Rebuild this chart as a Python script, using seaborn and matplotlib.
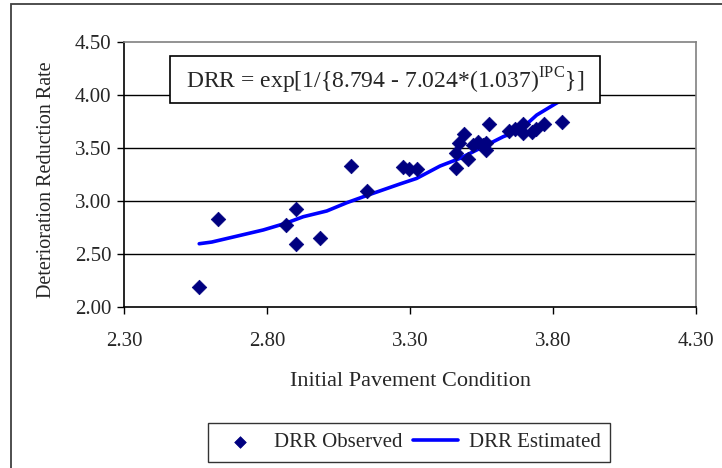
import matplotlib
matplotlib.use("Agg")
import matplotlib.pyplot as plt
import seaborn as sns
import pandas as pd
from matplotlib.patches import Rectangle

# Observed data
ipc_obs = [2.563, 2.630, 2.865, 2.901, 2.901, 2.986, 3.095, 3.151, 3.276, 3.298,
           3.323, 3.460, 3.460, 3.471, 3.490, 3.504, 3.521, 3.537, 3.556, 3.566,
           3.566, 3.576, 3.647, 3.667, 3.696, 3.696, 3.728, 3.741, 3.770, 3.831]
drr_obs = [2.186, 2.825, 2.774, 2.922, 2.592, 2.645, 3.330, 3.089, 3.315, 3.296,
           3.296, 3.311, 3.447, 3.547, 3.632, 3.393, 3.525, 3.557, 3.525, 3.478,
           3.541, 3.726, 3.658, 3.673, 3.724, 3.642, 3.651, 3.673, 3.724, 3.740]

# Estimated curve
ipc_est = [2.563, 2.607, 2.787, 2.865, 2.927, 3.009, 3.079, 3.151, 3.265, 3.323,
           3.405, 3.475, 3.556, 3.626, 3.685, 3.743, 3.807, 3.831]
drr_est = [2.594, 2.610, 2.724, 2.787, 2.849, 2.903, 2.981, 3.051, 3.158, 3.210,
           3.327, 3.400, 3.509, 3.604, 3.667, 3.808, 3.912, 3.950]

x_ticks = [2.30, 2.80, 3.30, 3.80, 4.30]
y_ticks = [2.00, 2.50, 3.00, 3.50, 4.00, 4.50]

sns.set_style("white")
plt.rcParams['font.family'] = ['Liberation Serif', 'DejaVu Serif']
plt.rcParams['mathtext.fontset'] = 'custom'
plt.rcParams['mathtext.rm'] = 'Liberation Serif'

W, H = 722, 468
fig = plt.figure(figsize=(W / 100, H / 100), dpi=100)
L, R, T, B = 124, 696, 41.7, 306.7
ax = fig.add_axes([L / W, 1 - B / H, (R - L) / W, (B - T) / H])

df_obs = pd.DataFrame({"IPC": ipc_obs, "DRR": drr_obs})
df_est = pd.DataFrame({"IPC": ipc_est, "DRR": drr_est})

sns.lineplot(data=df_est, x="IPC", y="DRR", ax=ax, color="#0000FF", lw=2.6,
             sort=False, estimator=None, zorder=3, label="DRR Estimated")
sns.scatterplot(data=df_obs, x="IPC", y="DRR", ax=ax, marker="D", s=55,
                color="#000080", edgecolor="#000080", linewidth=0.5, zorder=4,
                label="DRR Observed")

ax.set_xlim(2.30, 4.30)
ax.set_ylim(2.00, 4.50)
ax.set_xticks(x_ticks)
ax.set_yticks(y_ticks)
ax.set_xticklabels([f"{v:.2f}" for v in x_ticks], fontsize=15)
ax.set_yticklabels([f"{v:.2f}" for v in y_ticks], fontsize=15)
ax.tick_params(axis="both", direction="out", length=5, width=1, color="black",
               bottom=True, left=True, pad=4)
ax.tick_params(axis="x", pad=13.5)

for v in y_ticks[1:-1]:
    ax.axhline(v, color="black", lw=1, zorder=1)
ax.spines["left"].set_color("black")
ax.spines["bottom"].set_color("black")
ax.spines["left"].set_linewidth(1.2)
ax.spines["bottom"].set_linewidth(1.2)
ax.spines["top"].set_color("#808080")
ax.spines["right"].set_color("#808080")
ax.spines["top"].set_linewidth(1.2)
ax.spines["right"].set_linewidth(1.2)

ax.set_xlabel("Initial Pavement Condition", fontsize=16, labelpad=15)
ax.set_ylabel("Deterioration Reduction Rate", fontsize=14.5)
ax.yaxis.set_label_coords((47 - L) / (R - L), (B - 179.5) / (B - T))
ax.yaxis.label.set_va("center")

# Equation box
bx0, bx1, by0, by1 = 170, 600, 56, 103
ax.add_patch(Rectangle((bx0 / W, 1 - by1 / H), (bx1 - bx0) / W, (by1 - by0) / H,
                       transform=fig.transFigure, facecolor="white",
                       edgecolor="black", lw=1.2, zorder=10, clip_on=False))
ax.text((bx0 + bx1) / 2 / W, 1 - (by0 + by1) / 2 / H - 0.003,
        r"DRR = exp[1/{8.794 - 7.024*(1.037)$^{\mathrm{IPC}}$}]",
        transform=fig.transFigure, ha="center", va="center", fontsize=17,
        zorder=11)

# Legend
if ax.get_legend():
    ax.get_legend().remove()
h, l = ax.get_legend_handles_labels()
order = [l.index("DRR Observed"), l.index("DRR Estimated")]
leg = fig.legend([h[i] for i in order], [l[i] for i in order],
                 loc="center", bbox_to_anchor=(409 / W, 1 - 442.5 / H),
                 ncol=2, fontsize=15, frameon=True, fancybox=False,
                 edgecolor="black", handlelength=2.2, handletextpad=0.5,
                 columnspacing=0.5, borderpad=0.45, markerscale=0.8)
leg.get_frame().set_linewidth(1.0)

# Outer chart frame
fig.add_artist(Rectangle((10.5 / W, -0.1), 1.2, 1 - 4.5 / H + 0.1,
                         transform=fig.transFigure, fill=False,
                         edgecolor="#404040", lw=1.3))

fig.savefig("out.png", dpi=100)
